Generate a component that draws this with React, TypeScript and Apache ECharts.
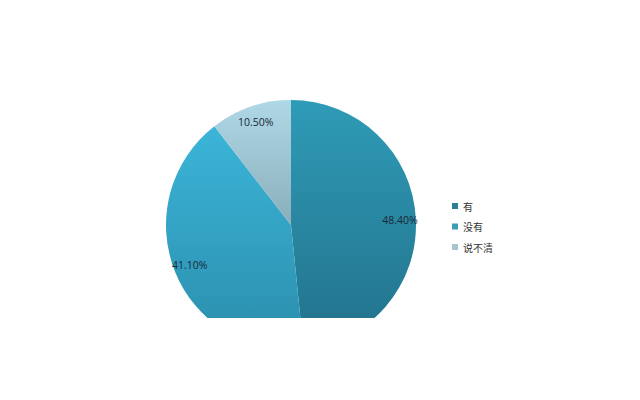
import React, { useEffect, useRef } from "react";
import * as echarts from "echarts";

const categories = ["有", "没有", "说不清"];
const shares = [48.4, 41.1, 10.5];
const topColors = ["#2f9bb7", "#3bb5d8", "#afd8e6"];
const bottomColors = ["#22718a", "#2b8dac", "#8aaebb"];
const legendColors = ["#2c7f93", "#3a9cb6", "#a9c4cd"];

const App = () => {
  const chartRef = useRef<HTMLDivElement>(null);

  useEffect(() => {
    if (!chartRef.current) return;
    const chart = echarts.init(chartRef.current, undefined, { renderer: "svg" });

    const grad = (i: number) =>
      new echarts.graphic.LinearGradient(0, 0, 0, 1, [
        { offset: 0, color: topColors[i] },
        { offset: 1, color: bottomColors[i] },
      ]);

    const option = {
      animation: false,
      backgroundColor: "#ffffff",
      legend: {
        orient: "vertical",
        left: 447,
        top: 195,
        itemWidth: 6,
        itemHeight: 6,
        itemGap: 8.5,
        icon: "rect",
        textStyle: {
          fontSize: 10,
          lineHeight: 12,
          color: "#333333",
          fontFamily: "Noto Sans CJK SC",
        },
        data: categories.map((name, i) => ({
          name,
          itemStyle: { color: legendColors[i] },
        })),
      },
      series: [
        {
          type: "pie",
          center: [291, 225],
          radius: [0, 125],
          startAngle: 90,
          clockwise: true,
          silent: true,
          itemStyle: { borderWidth: 0 },
          label: { show: false },
          labelLine: { show: false },
          data: categories.map((name, i) => ({
            name,
            value: shares[i],
            itemStyle: { color: grad(i), borderWidth: 0 },
          })),
        },
        {
          // transparent ring that places the labels near the outer edge
          type: "pie",
          center: [291, 225],
          radius: [88, 124],
          startAngle: 90,
          clockwise: true,
          silent: true,
          itemStyle: { color: "rgba(0,0,0,0)", borderWidth: 0 },
          label: {
            show: true,
            position: "inside",
            formatter: (p: any) => `${p.value.toFixed(2)}%`,
            fontSize: 10.5,
            color: "#1a2836",
            fontFamily: "Open Sans",
          },
          labelLine: { show: false },
          data: categories.map((name, i) => ({ name, value: shares[i] })),
        },
      ],
    };

    chart.setOption(option);
    return () => {
      chart.dispose();
    };
  }, []);

  return (
    <div
      style={{
        position: "fixed",
        left: 0,
        top: 0,
        width: 640,
        height: 400,
        background: "#ffffff",
      }}
    >
      <div ref={chartRef} style={{ width: 640, height: 318 }} />
    </div>
  );
};

export default App;
